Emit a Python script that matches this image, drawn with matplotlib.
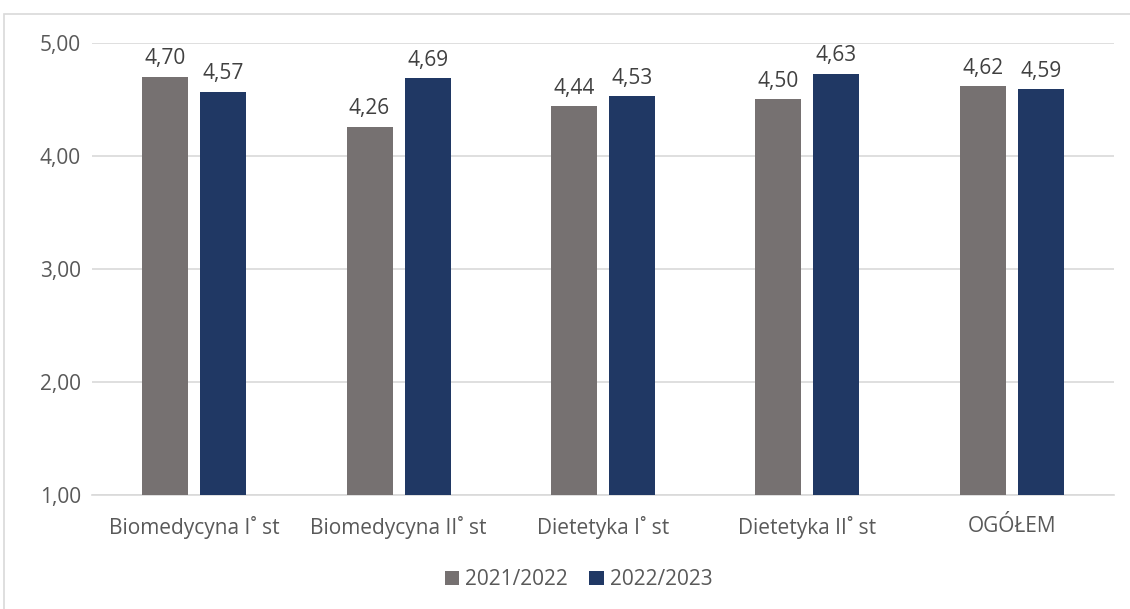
import matplotlib.pyplot as plt
from matplotlib.patches import Rectangle
import numpy as np

plt.rcParams['font.family'] = ['Open Sans', 'DejaVu Sans']

# Data
categories = ["Biomedycyna I˚ st", "Biomedycyna II˚ st", "Dietetyka I˚ st",
              "Dietetyka II˚ st", "OGÓŁEM"]
series_names = ["2021/2022", "2022/2023"]
values_2122 = [4.70, 4.26, 4.44, 4.50, 4.62]
values_2223 = [4.57, 4.69, 4.53, 4.73, 4.59]
labels_2122 = ["4,70", "4,26", "4,44", "4,50", "4,62"]
labels_2223 = ["4,57", "4,69", "4,53", "4,63", "4,59"]
yticks = [1.0, 2.0, 3.0, 4.0, 5.0]

colors = ["#767171", "#203864"]
text_color = "#595959"
grid_color = "#d9d9d9"

fig = plt.figure(figsize=(11.3, 6.09), dpi=100)
ax = fig.add_axes([0.0814, 0.1872, 0.9044, 0.7422])

# chart area border (cropped at right / bottom in the original)
fig.patches.append(Rectangle((4 / 1130, -0.1), 1.2, 1 - 14 / 609 + 0.1,
                             transform=fig.transFigure, fill=False,
                             edgecolor=grid_color, linewidth=1.2))

x = np.arange(len(categories))
w = 0.225
off = 0.142
bars1 = ax.bar(x - off, np.array(values_2122) - 1, w, bottom=1, color=colors[0],
               label=series_names[0], zorder=3)
bars2 = ax.bar(x + off, np.array(values_2223) - 1, w, bottom=1, color=colors[1],
               label=series_names[1], zorder=3)

# value labels above bars
for bars, vals, labs in [(bars1, values_2122, labels_2122), (bars2, values_2223, labels_2223)]:
    for b, v, t in zip(bars, vals, labs):
        ax.text(b.get_x() + b.get_width() / 2, v + 0.11, t, ha="center", va="baseline",
                fontsize=15, color="#404040", clip_on=False)

ax.set_xlim(-0.5, len(categories) - 0.5)
ax.set_ylim(1, 5)
ax.set_yticks(yticks)
ax.set_yticklabels([f"{t:.2f}".replace(".", ",") for t in yticks])
ax.set_xticks(x)
ax.set_xticklabels(categories)
ax.tick_params(axis="both", length=0, labelsize=15, labelcolor=text_color)
ax.tick_params(axis="y", pad=8)
ax.tick_params(axis="x", pad=15)
ax.grid(axis="y", color=grid_color, linewidth=1.2, zorder=0)
for s in ["top", "right", "left"]:
    ax.spines[s].set_visible(False)
ax.spines["bottom"].set_color(grid_color)
ax.spines["bottom"].set_linewidth(1.2)

fig.legend(loc="center", bbox_to_anchor=(0.512, 0.048), ncol=2, frameon=False,
           fontsize=15, labelcolor=text_color, handlelength=0.7, handleheight=0.7,
           handletextpad=0.3, columnspacing=1.0)

plt.savefig("out.png", dpi=100)
